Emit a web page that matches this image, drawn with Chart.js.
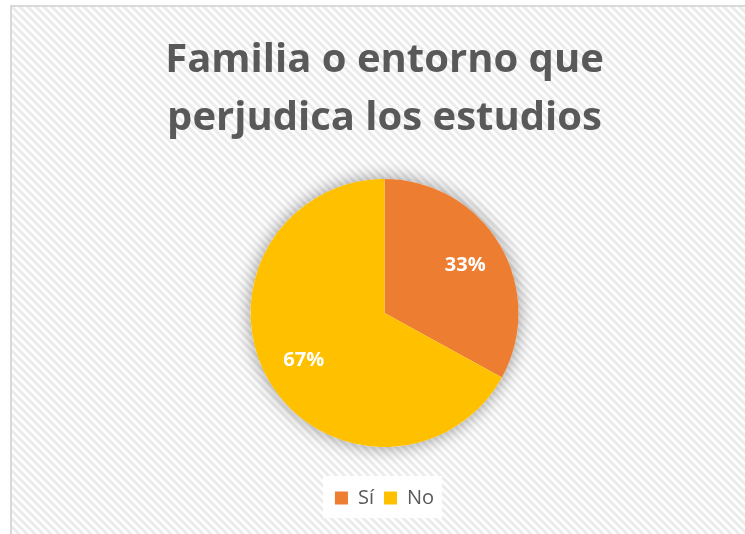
<!DOCTYPE html>
<html>
<head>
<meta charset="utf-8">
<script src="https://cdn.jsdelivr.net/npm/chart.js@4"></script>
<style>
  html, body { margin: 0; padding: 0; background: #fff; overflow: hidden; }
  #frame {
    position: absolute; left: 10px; top: 5px;
    width: 745px; height: 534px;
    border: 2px solid #d9d9d9;
  }
  canvas { display: block; }
</style>
</head>
<body>
<div id="frame"><canvas id="pieChart" width="745" height="534"></canvas></div>
<script>
const categories = ['Sí', 'No'];
const percentages = [33, 67];
const sliceColors = ['#ED7D31', '#FFC000'];
const titleLines = ['Familia o entorno que', 'perjudica los estudios'];

// striped background like the Excel chart area
function makeStripes() {
    const c = document.createElement('canvas');
    c.width = 8; c.height = 8;
    const g = c.getContext('2d');
    g.fillStyle = '#ffffff';
    g.fillRect(0, 0, 8, 8);
    g.strokeStyle = '#ebebeb';
    g.lineWidth = 3;
    g.beginPath();
    g.moveTo(-2, -2); g.lineTo(10, 10);
    g.moveTo(-10, -2); g.lineTo(2, 10);
    g.moveTo(6, -2); g.lineTo(18, 10);
    g.stroke();
    return c;
}

const backgroundPlugin = {
    id: 'stripedBackground',
    beforeDraw(chart) {
        const ctx = chart.ctx;
        ctx.save();
        ctx.fillStyle = ctx.createPattern(makeStripes(), 'repeat');
        ctx.fillRect(0, 0, chart.width, chart.height);
        // white box behind the legend
        const boxes = chart.legend.legendHitBoxes;
        if (boxes && boxes.length) {
            const first = boxes[0], last = boxes[boxes.length - 1];
            ctx.fillStyle = '#ffffff';
            ctx.fillRect(first.left - 12, first.top - 12, (last.left + last.width) - first.left + 20, first.height + 22);
        }
        ctx.restore();
    },
    beforeDatasetsDraw(chart) {
        const arc = chart.getDatasetMeta(0).data[0];
        if (!arc) return;
        const ctx = chart.ctx;
        ctx.save();
        ctx.shadowColor = 'rgba(0,0,0,0.4)';
        ctx.shadowBlur = 18;
        ctx.fillStyle = '#ffffff';
        ctx.beginPath();
        ctx.arc(arc.x, arc.y, arc.outerRadius, 0, Math.PI * 2);
        ctx.fill();
        ctx.restore();
    }
};

const labelPlugin = {
    id: 'sliceLabels',
    afterDatasetsDraw(chart) {
        const ctx = chart.ctx;
        const meta = chart.getDatasetMeta(0);
        ctx.save();
        ctx.fillStyle = '#ffffff';
        ctx.font = 'bold 20px "Open Sans"';
        ctx.textAlign = 'center';
        ctx.textBaseline = 'middle';
        meta.data.forEach((arc, i) => {
            const mid = (arc.startAngle + arc.endAngle) / 2;
            const r = arc.outerRadius * 0.7;
            ctx.fillText(percentages[i] + '%', arc.x + Math.cos(mid) * r, arc.y + Math.sin(mid) * r);
        });
        ctx.restore();
    }
};

const ctx = document.getElementById('pieChart').getContext('2d');
const pieChart = new Chart(ctx, {
    type: 'pie',
    data: {
        labels: categories,
        datasets: [{
            data: percentages,
            backgroundColor: sliceColors,
            borderWidth: 0,
            hoverOffset: 0
        }]
    },
    options: {
        responsive: false,
        animation: false,
        layout: { padding: { top: 0, bottom: 23, left: 0, right: 0 } },
        plugins: {
            title: {
                display: true,
                text: titleLines,
                color: '#595959',
                font: { family: 'Open Sans', size: 40, weight: 'bold', lineHeight: 58 / 40 },
                padding: { top: 25, bottom: 31 }
            },
            legend: {
                position: 'bottom',
                title: { display: true, text: ' ', font: { size: 1, lineHeight: 1 }, padding: { top: 30, bottom: 0 } },
                labels: {
                    boxWidth: 13,
                    boxHeight: 13,
                    padding: 10,
                    color: '#595959',
                    font: { family: 'Open Sans', size: 20 }
                }
            },
            tooltip: { enabled: false }
        }
    },
    plugins: [backgroundPlugin, labelPlugin]
});
</script>
</body>
</html>
